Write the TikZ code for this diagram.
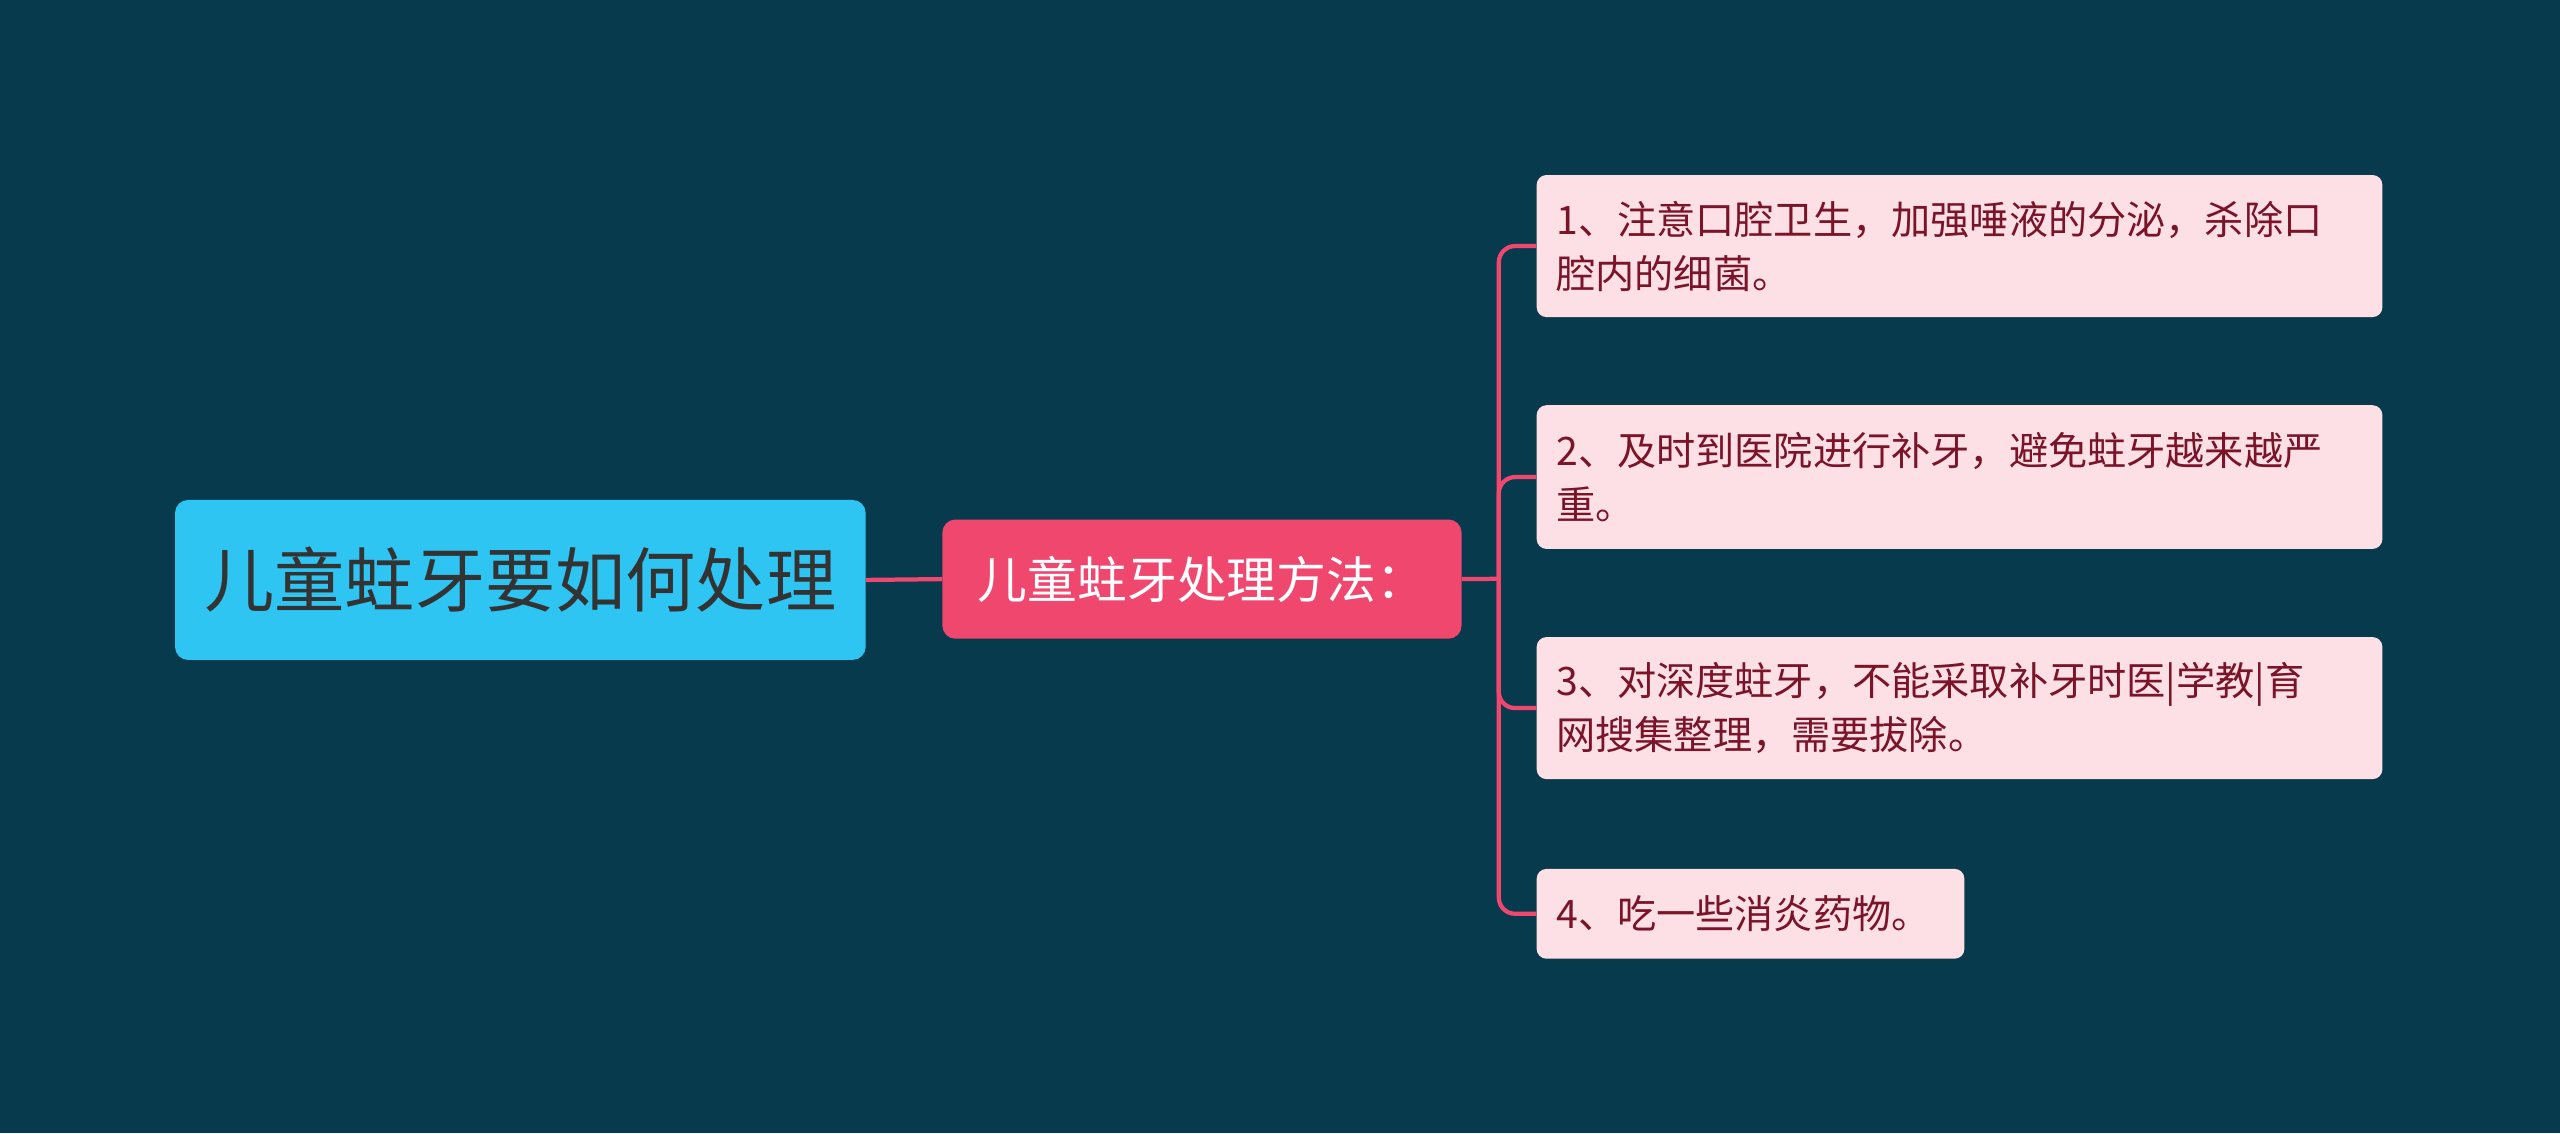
\documentclass[tikz,border=0pt]{standalone}
\usepackage{fontspec}
\newfontfamily\cjk{Noto Sans CJK SC}
\begin{document}
\begin{tikzpicture}[x=1pt,y=-1pt,
  leaf/.style={draw=none,fill=leaffill,rounded corners=6pt,anchor=north west,text width=494pt,inner xsep=12pt,inner ysep=0pt,align=left,font=\cjk\fontsize{24}{33}\selectfont,text=leaftext},
  conn/.style={draw=linec,line width=2.6pt,rounded corners=10pt}]
\definecolor{bg}{HTML}{073A4D}
\definecolor{rootc}{HTML}{2EC5F3}
\definecolor{midc}{HTML}{F0476F}
\definecolor{leaffill}{HTML}{FDE0E6}
\definecolor{leaftext}{HTML}{7A1428}
\definecolor{linec}{HTML}{F0476F}
\fill[bg] (0,0) rectangle (1568,694);
\node[fill=rootc,rounded corners=8pt,minimum width=423pt,minimum height=98pt,font=\cjk\fontsize{43}{50}\selectfont,text=black!80,anchor=north west] (root) at (107,306) {儿童蛀牙要如何处理};
\node[fill=midc,rounded corners=8pt,minimum width=318pt,minimum height=73pt,font=\cjk\fontsize{30.5}{36}\selectfont,text=white,anchor=north west] (mid) at (577,318) {儿童蛀牙处理方法：};
\node[leaf,minimum height=87pt] (l1) at (941,107) {1、注意口腔卫生，加强唾液的分泌，杀除口\\腔内的细菌。};
\node[leaf,minimum height=88pt] (l2) at (941,248) {2、及时到医院进行补牙，避免蛀牙越来越严\\重。};
\node[leaf,minimum height=87pt] (l3) at (941,390) {3、对深度蛀牙，不能采取补牙时医|学教|育\\网搜集整理，需要拔除。};
\node[leaf,text width=238pt,minimum height=55pt] (l4) at (941,532) {4、吃一些消炎药物。};
\coordinate (j) at (918,354.5);
\draw[conn] (root.east) -- (mid.west);
\draw[conn] (mid.east) -- (j);
\foreach \n in {l1,l2,l3,l4}{\draw[conn] (j) |- (\n.west);}
\end{tikzpicture}
\end{document}
